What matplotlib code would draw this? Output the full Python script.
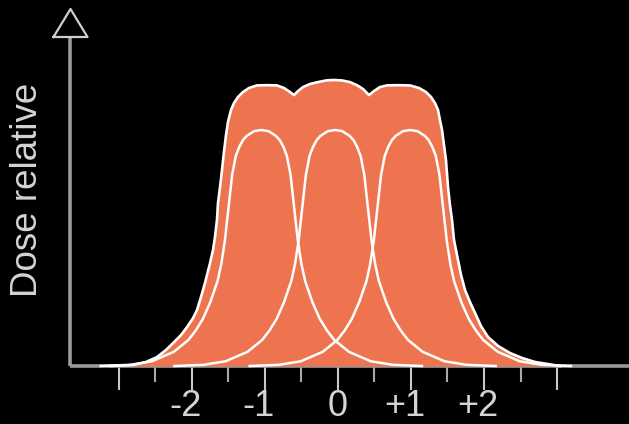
import numpy as np
import matplotlib
matplotlib.use('Agg')
import matplotlib.pyplot as plt

# beam centres (in beam-width units) and one half of a single beam profile
beam_centres = [-1.05, -0.04, 0.99]
profile_offset = [0.0, 0.1, 0.2, 0.25, 0.3, 0.35, 0.4, 0.45, 0.5, 0.55, 0.6, 0.7, 0.8, 0.9, 1.0, 1.2, 1.5, 1.8, 2.2]
profile_dose = [1.0, 0.995, 0.975, 0.958, 0.93, 0.89, 0.81, 0.67, 0.53, 0.43, 0.36, 0.27, 0.2, 0.15, 0.11, 0.06, 0.02, 0.005, 0.0]

# envelope (summed dose)
envelope_x = [-3.123, -2.808, -2.630, -2.479, -2.356, -2.260, -2.151, -2.068, -1.986, -1.932,
              -1.877, -1.822, -1.753, -1.712, -1.685, -1.658, -1.644, -1.616, -1.589, -1.562,
              -1.534, -1.507, -1.466, -1.425, -1.370, -1.301, -1.219, -1.110, -0.973, -0.836,
              -0.740, -0.658, -0.603, -0.548, -0.479, -0.384, -0.274, -0.164, -0.055, 0.055,
              0.164, 0.260, 0.342, 0.425, 0.493, 0.575, 0.671, 0.808, 0.986, 1.110,
              1.205, 1.274, 1.329, 1.370, 1.397, 1.425, 1.452, 1.479, 1.507, 1.534,
              1.562, 1.589, 1.644, 1.685, 1.740, 1.808, 1.877, 1.959, 2.055, 2.192,
              2.356, 2.521, 2.699, 3.041]
envelope_y = [0.0, 0.004, 0.017, 0.038, 0.068, 0.097, 0.131, 0.165, 0.203, 0.237,
              0.292, 0.352, 0.436, 0.492, 0.547, 0.619, 0.691, 0.758, 0.831, 0.907,
              0.979, 1.034, 1.085, 1.114, 1.140, 1.161, 1.178, 1.189, 1.190, 1.189,
              1.178, 1.161, 1.148, 1.165, 1.182, 1.195, 1.203, 1.210, 1.212, 1.210,
              1.203, 1.190, 1.174, 1.148, 1.165, 1.182, 1.189, 1.190, 1.189, 1.178,
              1.161, 1.140, 1.114, 1.085, 1.042, 1.000, 0.936, 0.873, 0.758, 0.682,
              0.619, 0.534, 0.449, 0.386, 0.322, 0.271, 0.225, 0.169, 0.123, 0.085,
              0.055, 0.034, 0.017, 0.0]

major_ticks = [-3, -2, -1, 0, 1, 2, 3]
minor_ticks = [-2.5, -1.5, -0.5, 0.5, 1.5, 2.5]
tick_labels = ['-2', '-1', '0', '+1', '+2']
tick_label_pos = [-2, -1, 0, 1, 2]

ORANGE = '#EE7450'
AXIS_GREY = '#9a9a9a'
TEXT_GREY = '#d4d4d4'


def main():
	fig = plt.figure(figsize=(6.29, 4.24), dpi=100, facecolor='black')
	ax = fig.add_axes([0, 0, 1, 1])
	ax.set_facecolor('black')
	# pixel mapping: x = 338 + 73*u, y = 366 - 236*v
	ax.set_xlim((0 - 338) / 73.0, (629 - 338) / 73.0)
	ax.set_ylim((366 - 424) / 236.0, 366 / 236.0)
	ax.axis('off')

	y_axis_x = (70.5 - 338) / 73.0

	# axes
	ax.plot([y_axis_x, 4.0], [0, 0], color=AXIS_GREY, lw=2.6, solid_capstyle='butt', zorder=1)
	ax.plot([y_axis_x, y_axis_x], [0, 1.40], color=AXIS_GREY, lw=2.6, solid_capstyle='butt', zorder=1)
	tip_v = (366 - 9) / 236.0
	base_v = (366 - 37) / 236.0
	half_w = 17 / 73.0
	ax.plot([y_axis_x - half_w, y_axis_x, y_axis_x + half_w, y_axis_x - half_w],
			[base_v, tip_v, base_v, base_v], color='#cfcfcf', lw=1.6, zorder=2)

	# ticks
	for t in major_ticks:
		ax.plot([t, t], [0, -24 / 236.0], color='#c8c8c8', lw=1.5, solid_capstyle='butt', zorder=0)
	for t in minor_ticks:
		ax.plot([t, t], [0, -16 / 236.0], color='#a8a8a8', lw=1.5, solid_capstyle='butt', zorder=0)
	for pos, lab in zip(tick_label_pos, tick_labels):
		shift = 0 if lab == '0' else -6 / 73.0
		ax.text(pos + shift, -41 / 236.0, lab, color=TEXT_GREY, fontsize=26, family='Liberation Sans',
				ha='center', va='center')

	# dose
	ax.fill_between(envelope_x, envelope_y, 0, color=ORANGE, lw=0, zorder=3)
	off = np.asarray(profile_offset)
	dose = np.asarray(profile_dose)
	for c in beam_centres:
		xs = np.concatenate([c - off[::-1], c + off[1:]])
		ys = np.concatenate([dose[::-1], dose[1:]])
		ax.plot(xs, ys, color='white', lw=1.8, zorder=4)
	ax.plot(envelope_x, envelope_y, color='white', lw=1.9, zorder=5)

	ax.text((28 - 338) / 73.0, (366 - 189.5) / 236.0, 'Dose relative', color=TEXT_GREY,
			fontsize=26.5, family='Liberation Sans', rotation=90, ha='center', va='center')

	fig.savefig('out.png', dpi=100, facecolor='black')
	plt.close('all')


if __name__ == '__main__':
	main()
